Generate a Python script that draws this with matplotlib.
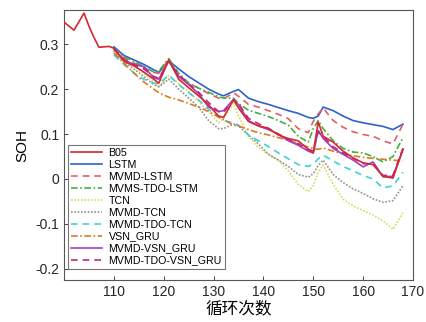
import matplotlib
matplotlib.use("Agg")
import matplotlib.pyplot as plt
from matplotlib.ticker import FuncFormatter

plt.rcParams['font.family'] = ['Liberation Sans', 'Noto Sans CJK SC', 'DejaVu Sans']

# cycles for B05 history and shared prediction grid
b05_cycles = [100, 102, 104, 105, 106, 107, 108, 109]
b05_hist = [0.349, 0.331, 0.369, 0.340, 0.315, 0.293, 0.294, 0.295]

cycles = [110, 112, 114, 116, 118, 119, 121, 123, 125, 127, 129, 131, 132, 134, 135,
          137, 139, 141, 143, 145, 147, 149, 150, 151, 152, 154, 156, 158, 160, 162,
          164, 166, 168]

b05 = [0.291, 0.262, 0.252, 0.238, 0.222, 0.213, 0.265, 0.222, 0.203, 0.185, 0.165,
       0.140, 0.137, 0.176, 0.158, 0.128, 0.118, 0.113, 0.098, 0.090, 0.085, 0.066,
       0.058, 0.127, 0.095, 0.082, 0.062, 0.047, 0.036, 0.032, 0.006, 0.002, 0.066]
lstm = [0.294, 0.275, 0.265, 0.255, 0.243, 0.237, 0.263, 0.245, 0.228, 0.214, 0.200,
        0.189, 0.185, 0.195, 0.199, 0.180, 0.172, 0.166, 0.159, 0.152, 0.146, 0.137,
        0.135, 0.140, 0.160, 0.152, 0.140, 0.130, 0.125, 0.121, 0.117, 0.110, 0.122]
mvmd_lstm = [0.290, 0.270, 0.258, 0.248, 0.237, 0.235, 0.266, 0.230, 0.213, 0.202, 0.190,
             0.180, 0.178, 0.192, 0.184, 0.166, 0.160, 0.152, 0.144, 0.134, 0.112, 0.103,
             0.128, 0.145, 0.158, 0.130, 0.115, 0.105, 0.099, 0.095, 0.085, 0.078, 0.122]
mvms_tdo_lstm = [0.290, 0.272, 0.262, 0.250, 0.238, 0.240, 0.268, 0.235, 0.214, 0.202, 0.193,
                 0.183, 0.180, 0.180, 0.168, 0.153, 0.146, 0.139, 0.130, 0.120, 0.095, 0.082,
                 0.112, 0.130, 0.112, 0.085, 0.068, 0.060, 0.058, 0.050, 0.038, 0.050, 0.092]
tcn = [0.280, 0.262, 0.250, 0.235, 0.215, 0.205, 0.230, 0.212, 0.195, 0.172, 0.150,
       0.125, 0.135, 0.168, 0.140, 0.095, 0.070, 0.055, 0.042, 0.018, -0.012, -0.028,
       -0.015, 0.015, 0.031, -0.012, -0.045, -0.060, -0.070, -0.080, -0.093, -0.112, -0.075]
mvmd_tcn = [0.285, 0.262, 0.245, 0.228, 0.210, 0.205, 0.222, 0.200, 0.180, 0.160, 0.130,
            0.112, 0.112, 0.122, 0.118, 0.098, 0.078, 0.055, 0.042, 0.028, 0.010, 0.004,
            0.012, 0.030, 0.042, 0.010, -0.008, -0.022, -0.032, -0.044, -0.052, -0.048, -0.015]
mvmd_tdo_tcn = [0.276, 0.255, 0.236, 0.222, 0.213, 0.212, 0.231, 0.210, 0.192, 0.176, 0.155,
                0.138, 0.130, 0.125, 0.120, 0.098, 0.085, 0.072, 0.058, 0.045, 0.032, 0.028,
                0.033, 0.045, 0.053, 0.040, 0.028, 0.018, 0.008, 0.000, -0.020, -0.015, 0.015]
vsn_gru = [0.280, 0.258, 0.236, 0.216, 0.200, 0.192, 0.182, 0.176, 0.168, 0.160, 0.150,
           0.138, 0.132, 0.120, 0.118, 0.110, 0.103, 0.098, 0.092, 0.087, 0.079, 0.071,
           0.068, 0.066, 0.069, 0.062, 0.056, 0.052, 0.048, 0.046, 0.044, 0.042, 0.040]
mvmd_vsn_gru = [0.290, 0.265, 0.255, 0.250, 0.225, 0.222, 0.262, 0.228, 0.210, 0.190, 0.160,
                0.150, 0.152, 0.177, 0.165, 0.130, 0.118, 0.110, 0.100, 0.085, 0.075, 0.062,
                0.058, 0.108, 0.090, 0.068, 0.055, 0.042, 0.027, 0.038, 0.005, 0.006, 0.066]
mvmd_tdo_vsn_gru = [0.288, 0.266, 0.254, 0.245, 0.228, 0.224, 0.263, 0.232, 0.212, 0.193, 0.170,
                    0.150, 0.148, 0.176, 0.168, 0.135, 0.123, 0.112, 0.100, 0.088, 0.078, 0.066,
                    0.062, 0.105, 0.095, 0.072, 0.058, 0.046, 0.034, 0.034, 0.008, 0.008, 0.068]

labels = ['B05', 'LSTM', 'MVMD-LSTM', 'MVMS-TDO-LSTM', 'TCN', 'MVMD-TCN',
          'MVMD-TDO-TCN', 'VSN_GRU', 'MVMD-VSN_GRU', 'MVMD-TDO-VSN_GRU']
xticks = [110, 120, 130, 140, 150, 160, 170]
yticks = [-0.2, -0.1, 0, 0.1, 0.2, 0.3]

fig = plt.figure(figsize=(4.27, 3.22), dpi=100)
ax = fig.add_axes([0.150, 0.130, 0.817, 0.839])

lw = 1.2
ax.plot(b05_cycles + cycles, b05_hist + b05, color='#d62830', lw=lw, ls='-', label=labels[0], zorder=5)
ax.plot(cycles, lstm, color='#3060d0', lw=lw, ls='-', label=labels[1])
ax.plot(cycles, mvmd_lstm, color='#e06060', lw=lw, ls=(0, (4, 3)), label=labels[2])
ax.plot(cycles, mvms_tdo_lstm, color='#40b040', lw=lw, ls=(0, (4, 1.5, 1, 1.5)), label=labels[3])
ax.plot(cycles, tcn, color='#d8d860', lw=lw, ls=(0, (1, 1)), label=labels[4])
ax.plot(cycles, mvmd_tcn, color='#909090', lw=lw, ls=(0, (1, 1)), label=labels[5])
ax.plot(cycles, mvmd_tdo_tcn, color='#40d0d8', lw=lw, ls=(0, (4, 3)), label=labels[6])
ax.plot(cycles, vsn_gru, color='#e07820', lw=lw, ls=(0, (4, 1.5, 1, 1.5)), label=labels[7])
ax.plot(cycles, mvmd_vsn_gru, color='#a040c8', lw=lw, ls='-', label=labels[8])
ax.plot(cycles, mvmd_tdo_vsn_gru, color='#c02878', lw=lw, ls=(0, (4, 3)), label=labels[9])

ax.set_xlim(100, 170)
ax.set_ylim(-0.225, 0.376)
ax.set_xticks(xticks)
ax.set_yticks(yticks)
ax.yaxis.set_major_formatter(FuncFormatter(lambda v, p: '0' if abs(v) < 1e-9 else f'{v:.1f}'))
ax.tick_params(direction='in', length=3, labelsize=10, colors='#262626', width=0.6)
for s in ax.spines.values():
    s.set_color('#555555')
    s.set_linewidth(0.8)

ax.set_ylabel('SOH', fontsize=11, labelpad=4)
ax.set_xlabel('循环次数', fontsize=12, labelpad=1)

leg = ax.legend(loc='lower left', bbox_to_anchor=(0.005, 0.035), fontsize=7.7, frameon=True,
                fancybox=False, edgecolor='#555555', handlelength=2.9, labelspacing=0.18,
                borderpad=0.3, handletextpad=0.6, borderaxespad=0.2)
leg.get_frame().set_linewidth(0.8)

fig.savefig('out.png', dpi=100)
